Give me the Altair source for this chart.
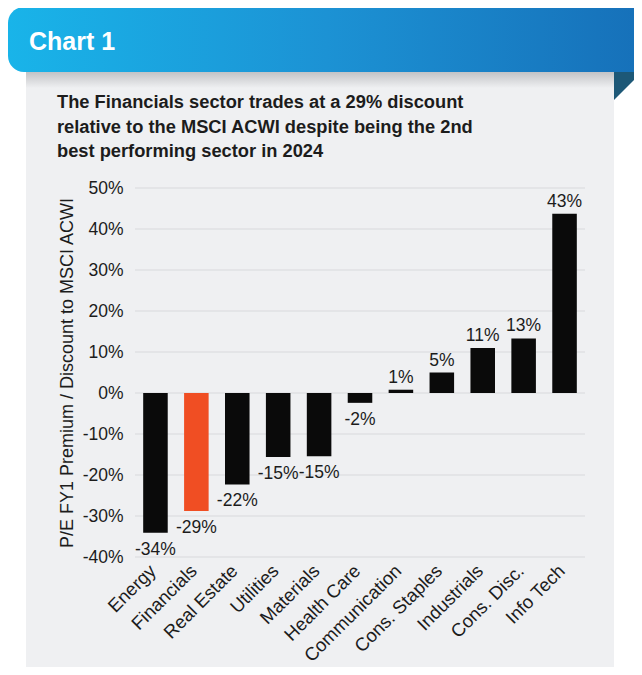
import altair as alt
import pandas as pd

# ---------------- data ----------------
sectors = ["Energy", "Financials", "Real Estate", "Utilities", "Materials", "Health Care",
           "Communication", "Cons. Staples", "Industrials", "Cons. Disc.", "Info Tech"]
values = [-34.1, -28.8, -22.3, -15.6, -15.4, -2.4, 0.8, 5.0, 11.0, 13.3, 43.7]
labels = ["-34%", "-29%", "-22%", "-15%", "-15%", "-2%", "1%", "5%", "11%", "13%", "43%"]
highlight = "Financials"
y_ticks = [-40, -30, -20, -10, 0, 10, 20, 30, 40, 50]

banner_text = "Chart 1"
title_lines = ["The Financials sector trades at a 29% discount",
               "relative to the MSCI ACWI despite being the 2nd",
               "best performing sector in 2024"]
y_title = "P/E FY1 Premium / Discount to MSCI ACWI"

# ---------------- styling ----------------
FONT = "Liberation Sans"
TXT = "#1c1c1c"
PANEL = "#eff0f2"
W, H = 450, 369

df = pd.DataFrame({"sector": sectors, "value": values, "label": labels})
grid_df = pd.DataFrame({"value": y_ticks})
one = pd.DataFrame({"k": [0]})

yscale = alt.Scale(domain=[-40, 50], nice=False)
xscale = alt.Scale(domain=sectors, paddingInner=0.4, paddingOuter=0.2)

panel = alt.Chart(one).mark_rect(color=PANEL).encode(
    x=alt.value(-109), x2=alt.value(479), y=alt.value(-116), y2=alt.value(495))

shadow = alt.Chart(one).mark_rect(
    color=alt.Gradient(gradient="linear",
                       stops=[alt.GradientStop(color="#c2c3c6", offset=0),
                              alt.GradientStop(color=PANEL, offset=1)],
                       x1=0, x2=0, y1=0, y2=1)
).encode(x=alt.value(-109), x2=alt.value(479), y=alt.value(-116), y2=alt.value(-100))

banner = alt.Chart(one).mark_rect(
    color=alt.Gradient(gradient="linear",
                       stops=[alt.GradientStop(color="#19b4e9", offset=0),
                              alt.GradientStop(color="#1c92d4", offset=0.5),
                              alt.GradientStop(color="#1670b9", offset=1)],
                       x1=0, x2=1, y1=0, y2=0),
    cornerRadiusTopLeft=16, cornerRadiusBottomLeft=16
).encode(x=alt.value(-127), x2=alt.value(510), y=alt.value(-181), y2=alt.value(-116))

fold = alt.Chart(one).mark_point(
    shape="M-1,-1L1,-1L-1,1Z", filled=True, size=784, color="#1d5877",
    opacity=1, strokeWidth=0
).encode(x=alt.value(493), y=alt.value(-102))

banner_lbl = alt.Chart(one).mark_text(
    text=banner_text, align="left", baseline="alphabetic", font=FONT,
    fontSize=25, fontWeight="bold", color="white"
).encode(x=alt.value(-106), y=alt.value(-138))

title_txt = alt.Chart(one).mark_text(
    text=title_lines, align="left", baseline="alphabetic", font=FONT,
    fontSize=18.3, fontWeight="bold", color=TXT, lineHeight=24.5
).encode(x=alt.value(-78), y=alt.value(-80))

xenc = alt.X("sector:N", sort=sectors, scale=xscale,
             axis=alt.Axis(title=None, labelAngle=-45, labelAlign="right",
                           labelBaseline="top", labelFont=FONT, labelFontSize=18.5,
                           labelColor=TXT, labelPadding=4, labelOffset=-9,
                           domain=False, ticks=False,
                           grid=False, zindex=1, labelOverlap=False))
yenc = alt.Y("value:Q", scale=yscale,
             axis=alt.Axis(values=y_ticks, labelExpr="datum.value + '%'",
                           title=y_title, titleFont=FONT, titleFontSize=18,
                           titleFontWeight="normal", titleColor=TXT, titlePadding=6,
                           labelFont=FONT, labelFontSize=17.5, labelColor=TXT,
                           labelPadding=12, domain=False, ticks=False, grid=False,
                           zindex=1))

grid = alt.Chart(grid_df).mark_rule(color="#d8d9dc", strokeWidth=1).encode(y=yenc)

bars = alt.Chart(df).mark_bar().encode(
    x=xenc, y=yenc,
    color=alt.condition(alt.datum.sector == highlight, alt.value("#f04e23"), alt.value("#0a0a0a")))

lab_pos = alt.Chart(df).transform_filter("datum.value >= 0").mark_text(
    baseline="alphabetic", dy=-7, font=FONT, fontSize=17.5, color=TXT
).encode(x=xenc, y=yenc, text="label:N")

lab_neg = alt.Chart(df).transform_filter("datum.value < 0").mark_text(
    baseline="alphabetic", dy=22, font=FONT, fontSize=17.5, color=TXT
).encode(x=xenc, y=yenc, text="label:N")

chart = alt.layer(panel, shadow, banner, fold, banner_lbl, title_txt, grid, bars,
                  lab_pos, lab_neg).properties(
    width=W, height=H,
    autosize=alt.AutoSizeParams(type="none"),
    padding={"left": 127, "top": 180, "right": 49, "bottom": 110},
    background="white",
).configure_view(stroke=None)

chart.save("out.html", embed_options={"renderer": "svg", "actions": False})
